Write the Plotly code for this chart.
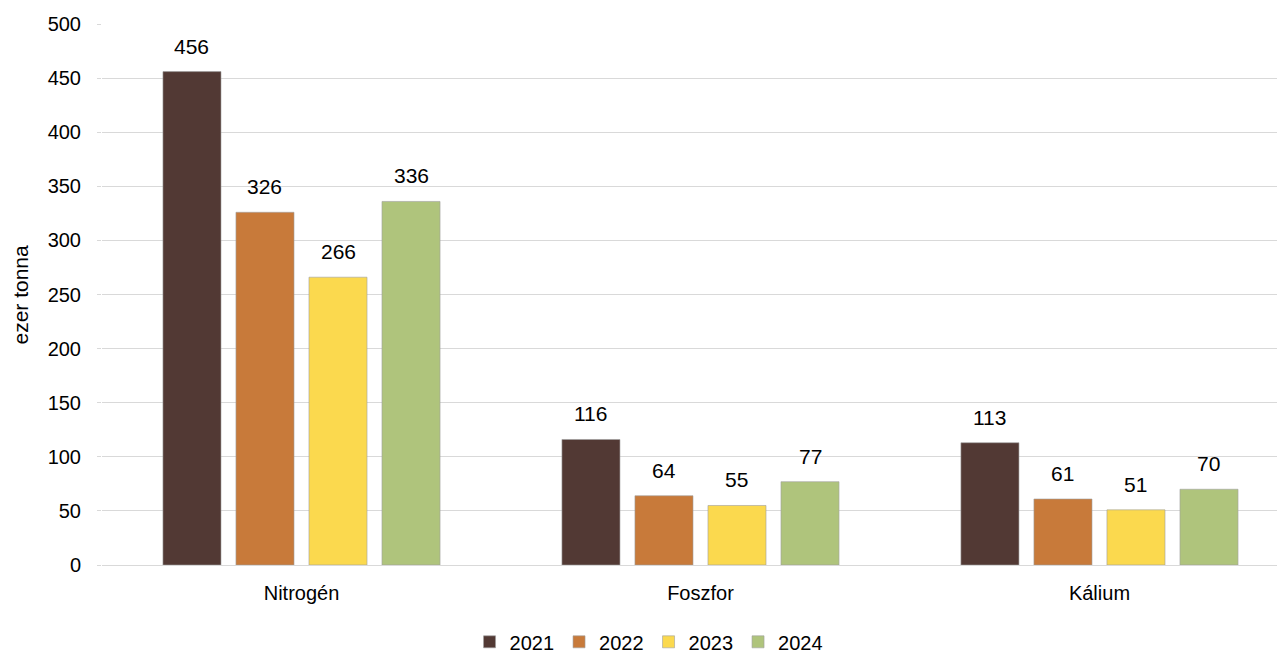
import plotly.graph_objects as go

categories = ["Nitrogén", "Foszfor", "Kálium"]
years = ["2021", "2022", "2023", "2024"]
values = {
    "2021": [456, 116, 113],
    "2022": [326, 64, 61],
    "2023": [266, 55, 51],
    "2024": [336, 77, 70],
}
colors = {"2021": "#523934", "2022": "#C87A3A", "2023": "#FBD94E", "2024": "#AFC47C"}
y_ticks = [0, 50, 100, 150, 200, 250, 300, 350, 400, 450, 500]
y_title = "ezer tonna"

BARGAP = 0.268
BARGROUPGAP = 0.205
slot = (1 - BARGAP) / len(years)

fig = go.Figure()
annotations = []
for k, y in enumerate(years):
    fig.add_trace(go.Bar(
        x=categories, y=values[y], name=y,
        marker=dict(color=colors[y], line=dict(width=0.6, color="#a0a0a0")),
    ))
    for i, v in enumerate(values[y]):
        annotations.append(dict(
            x=i + (k - (len(years) - 1) / 2) * slot, y=v, xref="x", yref="y",
            text=str(v), showarrow=False, yanchor="bottom", yshift=12,
            font=dict(size=21, color="#000000"),
        ))

annotations.append(dict(
    text=y_title, xref="paper", yref="paper", x=-0.0693, y=0.5,
    xanchor="center", yanchor="middle", textangle=-90, showarrow=False,
    font=dict(size=21, color="#000000"),
))

fig.update_layout(
    width=1285, height=653,
    margin=dict(l=94, r=8, t=16, b=96, autoexpand=False),
    paper_bgcolor="white", plot_bgcolor="white",
    font=dict(family="Liberation Sans, Arial, sans-serif", size=20, color="#000000"),
    barmode="group", bargap=BARGAP, bargroupgap=BARGROUPGAP,
    showlegend=True,
    legend=dict(orientation="h", x=0.462, xanchor="center", y=-0.142, yanchor="middle",
                font=dict(size=20), traceorder="normal", itemwidth=30),
    annotations=annotations,
)
fig.update_xaxes(range=[-0.5, 2.465], showgrid=False, showline=True, linecolor="#d9d9d9",
                 linewidth=1, ticks="", tickfont=dict(size=20), automargin=False,
                 ticklabelstandoff=10)
fig.update_yaxes(range=[0, 500], tickvals=y_ticks, showgrid=True, gridcolor="#d9d9d9",
                 gridwidth=1, zeroline=False, showline=False, ticks="outside", ticklen=4,
                 tickcolor="#d9d9d9", tickfont=dict(size=20), ticklabelstandoff=12,
                 automargin=False)

fig.write_html("out.html")
